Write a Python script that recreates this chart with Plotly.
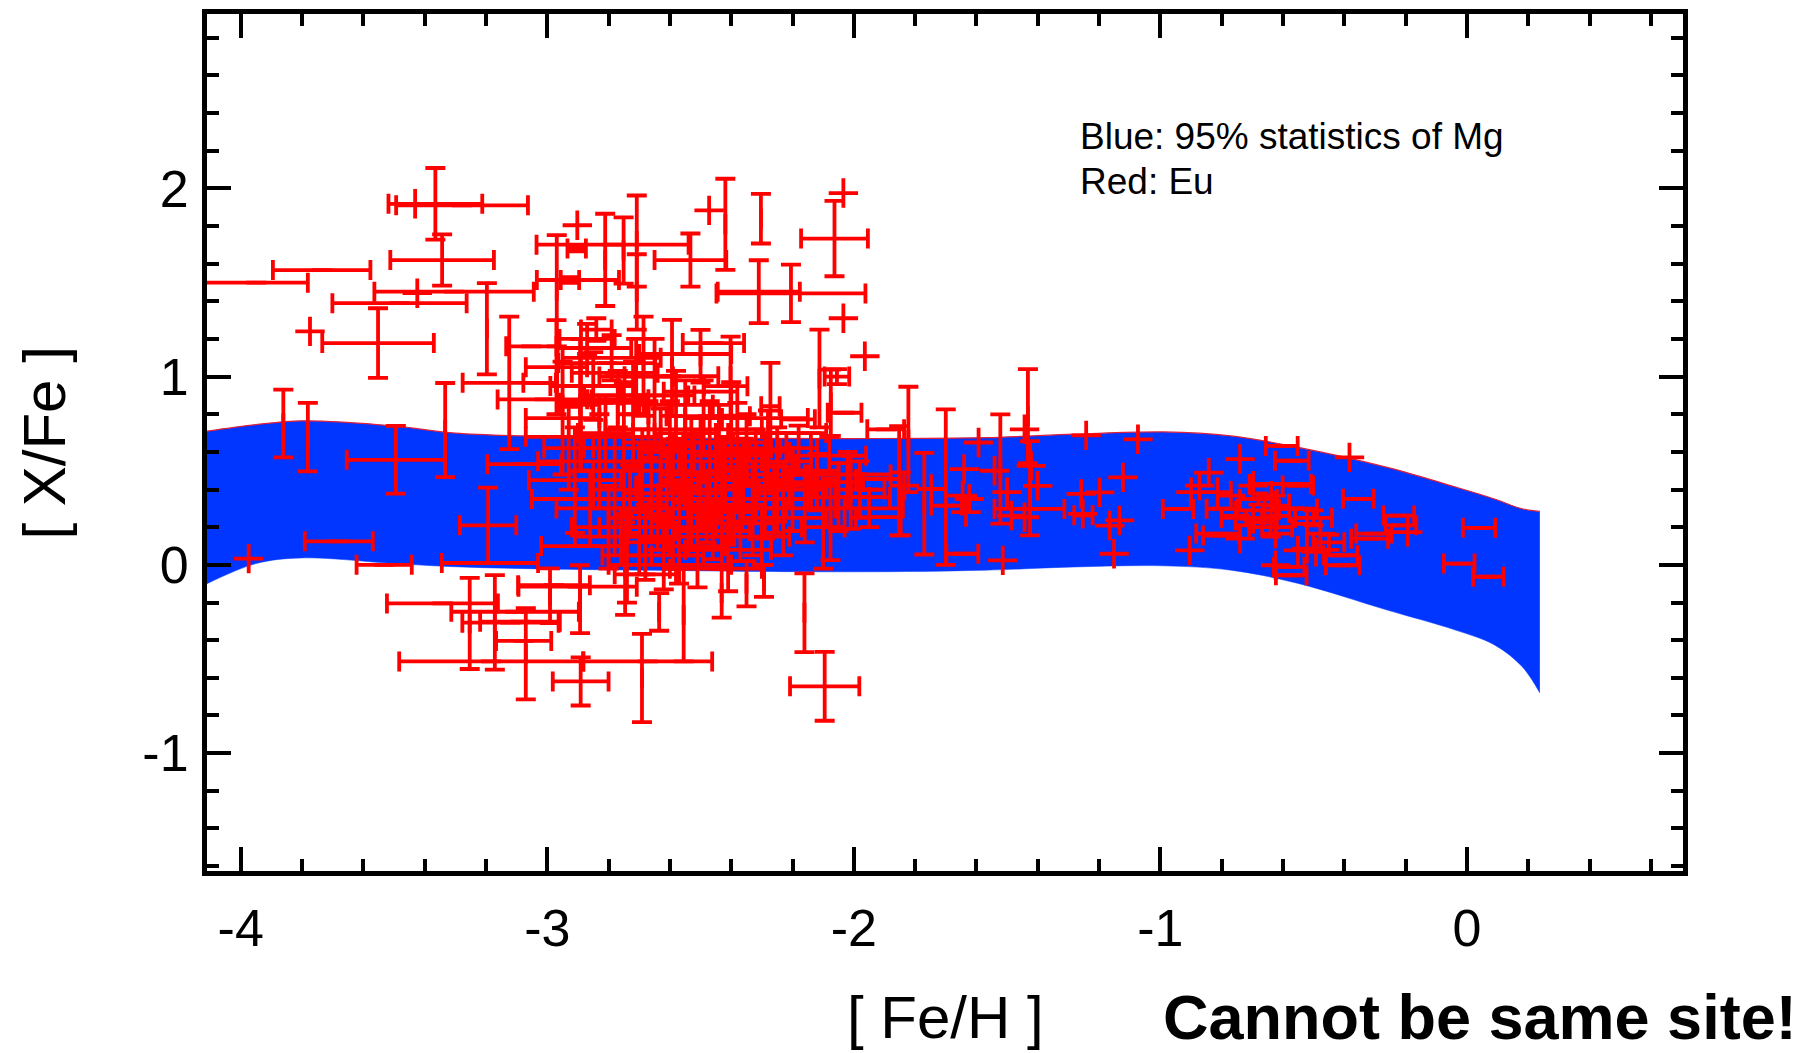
import plotly.graph_objects as go

# ---------------- Blue band: 95% statistics of Mg ----------------
band_feh   = [-4.11, -3.95, -3.80, -3.50, -3.30, -3.07, -2.70, -2.00, -1.57, -1.28,
              -0.99, -0.77, -0.55, -0.26, -0.04, 0.09, 0.18, 0.238]
band_upper = [0.710, 0.745, 0.765, 0.738, 0.700, 0.685, 0.675, 0.671, 0.676, 0.694,
              0.706, 0.685, 0.624, 0.518, 0.415, 0.350, 0.298, 0.284]
band_lower = [-0.100, 0.007, 0.037, 0.007, -0.010, -0.020, -0.028, -0.037, -0.028, -0.011,
              -0.005, -0.028, -0.099, -0.240, -0.345, -0.425, -0.540, -0.680]

# ---------------- Red: Eu measurements (with error bars) ----------------
# group A: outer / very metal-poor stars
a_feh = [-3.365, -3.278, -3.949, -3.736, -3.343, -3.304, -3.482, -3.552, -3.197, -3.124,
         -3.333, -3.494, -3.861, -3.781, -3.68, -3.532, -3.193, -3.187, -3.342, -3.183,
         -2.891, -2.691, -2.672, -2.095, -2.161, -3.253, -3.171, -3.105, -3.12, -3.07,
         -3.077, -2.893, -2.635, -2.555, -2.431, -2.35, -2.746, -2.901, -3.075, -3.089,
         -2.978, -2.991, -2.293]
a_xfe = [1.918, 1.91, 1.499, 1.566, 1.619, 1.451, 1.39, 1.178, 1.254, 0.967,
         0.716, 0.558, 0.751, 0.679, 0.125, 0.0, 0.21, 0.01, -0.205, -0.513,
         -0.619, -0.601, -0.513, -0.645, -0.254, -0.311, -0.305, -0.249, -0.307, -0.472,
         -0.404, -0.182, -0.25, -0.266, -0.15, -0.1, -0.02, -0.116, 0.535, -0.302,
         -0.108, -0.164, -0.085]
a_feh_err = [0.153, 0.215, 0.168, 0.159, 0.169, 0.26, 0.219, 0.182, 0, 0.152,
             0, 0.16, 0, 0, 0.111, 0.09, 0.092, 0.157, 0.181, 0.3,
             0.091, 0, 0.21, 0.113, 0, 0, 0, 0.208, 0.157, 0,
             0.09, 0, 0, 0, 0, 0, 0, 0.193, 0.12, 0.13,
             0.117, 0, 0]
a_xfe_err = [0.19, 0, 0, 0, 0.136, 0, 0, 0.185, 0.242, 0.352,
             0.25, 0.18, 0.18, 0.182, 0, 0, 0.2, 0, 0, 0,
             0.128, 0.234, 0, 0.183, 0.209, 0.242, 0.251, 0, 0, 0.242,
             0, 0.18, 0.1, 0.247, 0.13, 0.12, 0.246, 0, 0, 0,
             0, 0.145, 0.085]

# group B: upper part of the main cluster
b_feh = [-2.419, -2.303, -2.063, -2.31, -2.205, -2.533, -2.112, -2.055, -2.811, -2.708,
         -2.708, -2.751, -2.904, -2.926, -2.969, -2.787, -2.9, -3.052, -2.272, -2.075,
         -2.593, -2.5, -2.402, -2.458, -2.686, -2.846, -3.023, -3.009, -2.806, -2.595,
         -2.418, -2.817, -2.475, -2.182, -2.03, -2.893, -2.076, -2.01, -1.847, -1.896]
b_xfe = [1.809, 1.839, 1.733, 1.451, 1.442, 1.619, 0.99, 1.0, 1.62, 1.72,
         1.45, 1.67, 1.68, 1.513, 1.456, 1.701, 1.513, 1.161, 0.843, 0.861,
         1.046, 1.108, 1.002, 1.178, 1.055, 1.152, 0.967, 0.879, 1.072, 1.002,
         0.949, 0.861, 0.79, 0.773, 0.808, 0.85, 0.241, 0.385, 0.324, 0.72]
b_feh_err = [0, 0, 0.109, 0.134, 0.243, 0.117, 0, 0.04, 0, 0,
             0, 0, 0.03, 0.03, 0, 0.248, 0.134, 0.082, 0.03, 0,
             0, 0, 0, 0.1, 0, 0.12, 0.055, 0.153, 0.158, 0.153,
             0.071, 0.142, 0.136, 0.055, 0.055, 0, 0, 0, 0, 0.06]
b_xfe_err = [0.242, 0.132, 0.2, 0.167, 0.153, 0.141, 0.26, 0.04, 0.245, 0.242,
             0.2, 0.176, 0.015, 0.015, 0.295, 0, 0, 0, 0.23, 0.176,
             0.255, 0.14, 0.21, 0, 0.264, 0, 0, 0, 0, 0,
             0, 0, 0, 0, 0, 0.35, 0.216, 0.194, 0.167, 0]

# group C: dense core of the cluster
c_feh = [-2.97, -2.95, -2.93, -2.91, -2.89, -2.87, -2.86, -2.85, -2.84, -2.83,
         -2.81, -2.80, -2.79, -2.78, -2.77, -2.76, -2.75, -2.74, -2.73, -2.72,
         -2.71, -2.70, -2.69, -2.68, -2.67, -2.66, -2.65, -2.64, -2.63, -2.62,
         -2.61, -2.60, -2.59, -2.58, -2.57, -2.56, -2.55, -2.54, -2.53, -2.52,
         -2.51, -2.50, -2.49, -2.48, -2.47, -2.46, -2.45, -2.44, -2.43, -2.42,
         -2.41, -2.40, -2.39, -2.38, -2.37, -2.36, -2.35, -2.33, -2.32, -2.30,
         -2.29, -2.28, -2.26, -2.25, -2.23, -2.22, -2.20, -2.18, -2.16, -2.14,
         -2.12, -2.10, -2.08, -2.05, -2.02, -1.98, -1.95,
         -2.85, -2.70, -2.55, -2.60, -2.45, -2.78, -2.35, -2.25, -2.90, -2.68, -2.50, -2.95]
c_xfe = [1.05, 0.78, 0.62, 0.45, 0.85, 1.20, 0.30, 0.95, 1.25, 0.55,
         0.70, 0.20, 1.10, 0.40, 0.88, 0.15, 0.62, 0.05, 0.35, 0.80,
         1.00, 0.25, 0.50, 0.12, 0.72, 0.38, 0.90, 0.20, 0.55, 0.05,
         0.42, 0.65, 0.30, 0.85, 0.15, 0.48, 0.70, 0.25, 0.38, 0.60,
         0.10, 0.45, 0.78, 0.30, 0.55, 0.18, 0.40, 0.65, 0.28, 0.50,
         0.08, 0.72, 0.35, 0.58, 0.22, 0.45, 0.62, 0.30, 0.52, 0.15,
         0.42, 0.60, 0.35, 0.48, 0.25, 0.55, 0.40, 0.62, 0.30, 0.50,
         0.44, 0.20, 0.58, 0.36, 0.48, 0.40, 0.30,
         0.68, 0.90, 1.12, 0.00, -0.02, 1.02, 0.78, 0.70, 0.10, -0.05, 0.92, 0.35]
c_feh_err = [0.10, 0.12, 0.08, 0.15, 0.06, 0.09, 0.11, 0.14, 0.05, 0.20,
             0.09, 0.12, 0.16, 0.07, 0.10, 0.15, 0.13, 0.08, 0.18, 0.05,
             0.12, 0.10, 0.16, 0.07, 0.14, 0.09, 0.11, 0.19, 0.06, 0.13,
             0.10, 0.15, 0.08, 0.12, 0.17, 0.07, 0.10, 0.14, 0.11, 0.18,
             0.09, 0.13, 0.06, 0.16, 0.10, 0.12, 0.08, 0.15, 0.11, 0.07,
             0.14, 0.10, 0.18, 0.09, 0.12, 0.15, 0.08, 0.11, 0.13, 0.09,
             0.16, 0.07, 0.12, 0.10, 0.14, 0.08, 0.11, 0.06, 0.13, 0.09,
             0.15, 0.07, 0.12, 0.10, 0.14, 0.08, 0.11,
             0.22, 0.18, 0.15, 0.20, 0.15, 0.14, 0.20, 0.16, 0.12, 0.10, 0.12, 0.10]
c_xfe_err = [0.25, 0.30, 0.22, 0.28, 0.35, 0.08, 0.20, 0.18, 0.06, 0.25,
             0.20, 0.22, 0.12, 0.30, 0.15, 0.15, 0.35, 0.25, 0.18, 0.28,
             0.20, 0.30, 0.22, 0.20, 0.15, 0.25, 0.30, 0.12, 0.28, 0.18,
             0.20, 0.22, 0.32, 0.18, 0.25, 0.15, 0.28, 0.20, 0.30, 0.12,
             0.22, 0.25, 0.20, 0.18, 0.32, 0.15, 0.25, 0.20, 0.30, 0.18,
             0.22, 0.25, 0.15, 0.28, 0.20, 0.22, 0.18, 0.25, 0.20, 0.15,
             0.28, 0.22, 0.18, 0.25, 0.20, 0.15, 0.22, 0.12, 0.18, 0.20,
             0.15, 0.22, 0.10, 0.18, 0.12, 0.15, 0.10,
             0, 0, 0, 0, 0, 0, 0, 0, 0, 0, 0, 0]

# group D: intermediate metallicity
d_feh = [-1.432, -1.425, -1.822, -1.70, -1.522, -1.852, -1.77, -1.646, -1.427, -1.923,
         -1.952, -1.923, -1.697, -1.251]
d_xfe = [0.79, 0.407, 0.666, 0.413, 0.509, 0.447, 0.325, 0.059, 0.297, 0.456,
         0.36, 0.254, 0.315, 0.263]
d_feh_err = [0, 0, 0, 0, 0, 0, 0, 0.052, 0.114, 0.07, 0.07, 0.07, 0.05, 0.03]
d_xfe_err = [0.25, 0.25, 0.28, 0.413, 0.29, 0.29, 0.27, 0, 0, 0, 0, 0, 0, 0]

# group E: disk stars
e_feh = [-0.604, -0.571, -0.354, -0.222, -0.215, 0.04, -0.025, 0.07, -0.317, -0.405,
         -0.573, -0.412, -0.609, -0.942, -0.799, -0.551, -0.813, -0.303, -0.551, -0.8,
         -0.58, -0.68, -0.72, -0.64, -0.5, -0.45]
e_xfe = [0.632, 0.553, 0.351, 0.262, 0.21, 0.197, 0.007, -0.063, 0.139, -0.002,
         -0.055, 0.051, 0.43, 0.297, 0.298, 0.298, 0.166, 0.166, 0.421, 0.156,
         -0.011, 0.35, 0.25, 0.2, 0.25, 0.12]
e_feh_err = [0.052, 0.055, 0.05, 0.05, 0.05, 0.053, 0.05, 0.05, 0.06, 0.055,
             0.05, 0.055, 0.1, 0.05, 0.05, 0.062, 0.07, 0.058, 0.05, 0.06,
             0.05, 0.06, 0.08, 0.07, 0.06, 0.05]
e_xfe_err = [0, 0, 0, 0, 0, 0, 0, 0, 0, 0,
             0, 0, 0, 0, 0, 0, 0, 0, 0, 0,
             0, 0.03, 0.04, 0.05, 0.04, 0.04]

# small-error points drawn as plain crosses
plus_feh = [-3.431, -3.424, -3.774, -3.974, -2.034, -2.472, -2.034, -1.964, -2.902,
            -1.514, -1.593, -1.64, -1.541, -1.242, -1.073, -1.122, -1.258, -1.198, -1.253,
            -1.165, -1.133, -1.151, -0.904, -1.443, -1.421, -1.40, -1.443, -1.623, -1.634,
            -1.835, -1.747, -1.645, -1.5, -1.485,
            -0.383, -0.624, -0.74, -0.755, -0.697, -0.668, -0.624, -0.522, -0.478, -0.74,
            -0.624, -0.551, -0.492, -0.872, -0.813, -0.9, -0.697, -0.638, -0.77, -0.193,
            -0.842, -0.522, -0.62, -0.58, -0.66]
plus_xfe = [1.918, 1.443, 1.24, 0.033, 1.975, 1.883, 1.31, 1.108, 1.804,
            0.024, 0.65, 0.509, 0.5, 0.688, 0.667, 0.465, 0.377, 0.385, 0.271,
            0.209, 0.236, 0.059, 0.077, 0.72, 0.526, 0.42, 0.253, 0.35, 0.28,
            0.421, 0.403, 0.368, 0.386, 0.262,
            0.571, -0.002, 0.562, 0.262, 0.245, 0.227, 0.315, 0.218, 0.166, 0.139,
            0.166, 0.077, 0.069, 0.421, 0.386, 0.386, 0.421, 0.368, 0.368, 0.174,
            0.49, 0.086, 0.26, 0.3, 0.29]

x_ticks = [-4, -3, -2, -1, 0]
x_ticklabels = ["-4", "-3", "-2", "-1", "0"]
y_ticks = [-1, 0, 1, 2]
y_ticklabels = ["-1", "0", "1", "2"]

feh = a_feh + b_feh + c_feh + d_feh + e_feh
xfe = a_xfe + b_xfe + c_xfe + d_xfe + e_xfe
feh_err = a_feh_err + b_feh_err + c_feh_err + d_feh_err + e_feh_err
xfe_err = a_xfe_err + b_xfe_err + c_xfe_err + d_xfe_err + e_xfe_err
n = len(feh)
feh_err = (feh_err + [0] * n)[:n]
xfe_err = (xfe_err + [0] * n)[:n]
xfe = (xfe + [0] * n)[:n]

RED = "#ff0000"
BLUE = "#0036ff"
FONT = "Liberation Sans, Arial, sans-serif"

fig = go.Figure()
fig.add_trace(go.Scatter(x=band_feh, y=band_lower, mode="lines",
                         line=dict(color=BLUE, width=0.5, shape="spline"),
                         hoverinfo="skip", showlegend=False))
fig.add_trace(go.Scatter(x=band_feh, y=band_upper, mode="lines", fill="tonexty",
                         fillcolor=BLUE, line=dict(color="#e0203a", width=1.2, shape="spline"),
                         hoverinfo="skip", showlegend=False))

fig.add_trace(go.Scatter(
    x=feh, y=xfe, mode="markers",
    marker=dict(size=2, color=RED),
    error_x=dict(type="data", array=feh_err, visible=True, color=RED, thickness=3.8, width=10),
    error_y=dict(type="data", array=xfe_err, visible=True, color=RED, thickness=3.8, width=10),
    showlegend=False))

fig.add_trace(go.Scatter(
    x=plus_feh, y=plus_xfe, mode="markers",
    marker=dict(symbol="cross-thin", size=21, color=RED, line=dict(color=RED, width=3.8)),
    showlegend=False))

axis_common = dict(
    ticks="inside", ticklen=24, tickwidth=4, tickcolor="black",
    showline=True, linewidth=5, linecolor="black", mirror="ticks",
    showgrid=False, zeroline=False,
    tickfont=dict(family=FONT, size=52, color="black"),
    minor=dict(dtick=0.2, tick0=0, ticks="inside", ticklen=12, tickwidth=4,
               tickcolor="black", showgrid=False),
)

fig.update_layout(
    width=1820, height=1053,
    margin=dict(l=207, r=137, t=9, b=182),
    paper_bgcolor="white", plot_bgcolor="white",
    xaxis=dict(range=[-4.11, 0.705], tickmode="array", tickvals=x_ticks,
               ticktext=x_ticklabels, ticklabelstandoff=8, **axis_common),
    yaxis=dict(range=[-1.626, 2.926], tickmode="array", tickvals=y_ticks,
               ticktext=y_ticklabels, ticklabelstandoff=3, **axis_common),
    font=dict(family=FONT, color="black"),
    annotations=[
        dict(text="Blue: 95% statistics of Mg", x=-1.268, y=2.276, xref="x", yref="y",
             xanchor="left", yanchor="middle", showarrow=False,
             font=dict(family=FONT, size=37, color="black")),
        dict(text="Red: Eu", x=-1.268, y=2.037, xref="x", yref="y",
             xanchor="left", yanchor="middle", showarrow=False,
             font=dict(family=FONT, size=37, color="black")),
        dict(text="[ Fe/H ]", x=0.5, y=-0.1705, xref="paper", yref="paper",
             xanchor="center", yanchor="middle", showarrow=False,
             font=dict(family=FONT, size=60, color="black")),
        dict(text="<b>Cannot be same site!</b>", x=0.6463, y=-0.1705, xref="paper", yref="paper",
             xanchor="left", yanchor="middle", showarrow=False,
             font=dict(family=FONT, size=63, color="black")),
        dict(text="[ X/Fe ]", x=-0.1104, y=0.4988, xref="paper", yref="paper",
             xanchor="center", yanchor="middle", textangle=-90, showarrow=False,
             font=dict(family=FONT, size=60, color="black")),
    ],
)

fig.write_html("out.html")
